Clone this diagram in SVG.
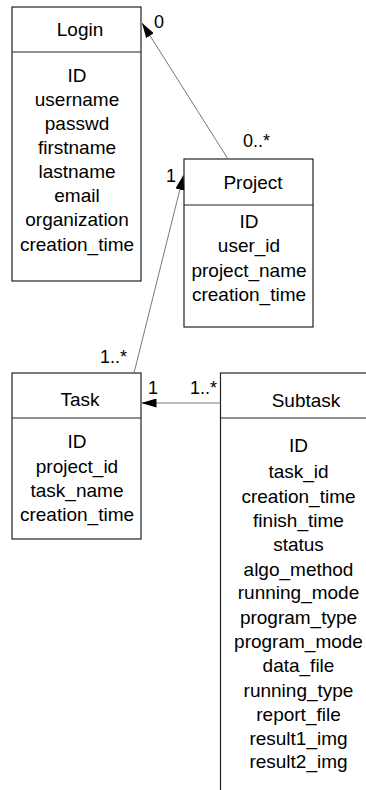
<svg xmlns="http://www.w3.org/2000/svg" width="366" height="790" viewBox="0 0 366 790">
<style>
.box{fill:#fff;stroke:#222;stroke-width:1.2}
.div{stroke:#222;stroke-width:1.2}
.t{font-family:"Liberation Sans",Arial,sans-serif;font-size:19px;fill:#000;text-anchor:middle}
.l{font-family:"Liberation Sans",Arial,sans-serif;font-size:18px;fill:#000}
.c{stroke:#777;stroke-width:1;fill:none}
</style>
<defs>
<marker id="arr" viewBox="0 0 15 9" refX="15" refY="4.5" markerWidth="15" markerHeight="9" markerUnits="userSpaceOnUse" orient="auto">
<path d="M0,0 L15,4.5 L0,9 z" fill="#000"/>
</marker>
</defs>
<rect width="366" height="790" fill="#fff"/>
<g id="login">
<rect class="box" x="12" y="7" width="129" height="274"/>
<line class="div" x1="12" y1="52" x2="141" y2="52"/>
<text class="t" x="80" y="36">Login</text>
<text class="t" x="77" y="82">ID</text>
<text class="t" x="77" y="106">username</text>
<text class="t" x="77" y="130">passwd</text>
<text class="t" x="77" y="154">firstname</text>
<text class="t" x="77" y="178">lastname</text>
<text class="t" x="77" y="202">email</text>
<text class="t" x="77" y="226">organization</text>
<text class="t" x="77" y="251">creation_time</text>
</g>
<g id="project">
<rect class="box" x="184" y="159" width="129" height="168"/>
<line class="div" x1="184" y1="205" x2="313" y2="205"/>
<text class="t" x="253" y="189">Project</text>
<text class="t" x="249" y="228">ID</text>
<text class="t" x="249" y="252">user_id</text>
<text class="t" x="249" y="277">project_name</text>
<text class="t" x="249" y="301">creation_time</text>
</g>
<g id="task">
<rect class="box" x="12" y="373" width="129" height="166"/>
<line class="div" x1="12" y1="418" x2="141" y2="418"/>
<text class="t" x="80" y="406">Task</text>
<text class="t" x="77" y="448">ID</text>
<text class="t" x="77" y="473">project_id</text>
<text class="t" x="77" y="497">task_name</text>
<text class="t" x="77" y="521">creation_time</text>
</g>
<g id="subtask">
<rect class="box" x="220.5" y="373" width="170" height="440"/>
<line class="div" x1="220.5" y1="418" x2="390.5" y2="418"/>
<text class="t" x="306" y="407">Subtask</text>
<text class="t" x="298.5" y="452">ID</text>
<text class="t" x="298.5" y="478">task_id</text>
<text class="t" x="298.5" y="503">creation_time</text>
<text class="t" x="298.5" y="527">finish_time</text>
<text class="t" x="298.5" y="551">status</text>
<text class="t" x="298.5" y="576">algo_method</text>
<text class="t" x="298.5" y="599">running_mode</text>
<text class="t" x="298.5" y="624">program_type</text>
<text class="t" x="298.5" y="648">program_mode</text>
<text class="t" x="298.5" y="672">data_file</text>
<text class="t" x="298.5" y="697">running_type</text>
<text class="t" x="298.5" y="721">report_file</text>
<text class="t" x="298.5" y="745">result1_img</text>
<text class="t" x="298.5" y="768">result2_img</text>
</g>
<g id="connectors">
<line class="c" x1="228" y1="159" x2="142" y2="23" marker-end="url(#arr)"/>
<line class="c" x1="134" y1="373" x2="183.5" y2="175" marker-end="url(#arr)"/>
<line class="c" x1="220.5" y1="403" x2="141.5" y2="403" marker-end="url(#arr)"/>
<text class="l" x="154" y="28">0</text>
<text class="l" x="243" y="147">0..*</text>
<text class="l" x="166" y="182">1</text>
<text class="l" x="100" y="363">1..*</text>
<text class="l" x="148" y="394">1</text>
<text class="l" x="190" y="394">1..*</text>
</g>
</svg>
